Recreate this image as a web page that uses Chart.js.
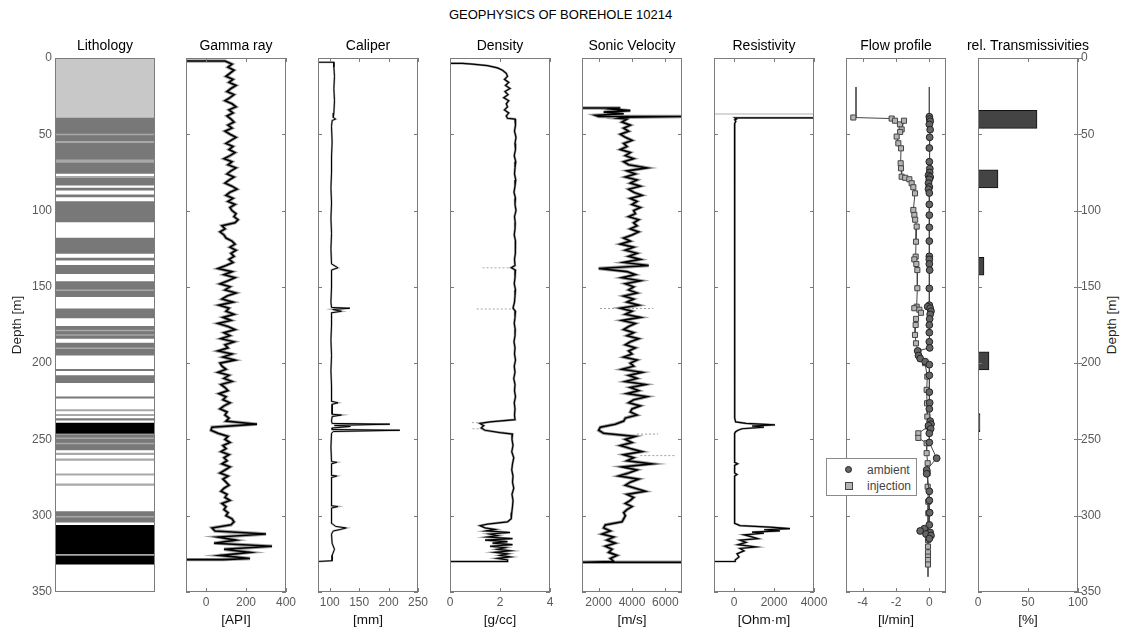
<!DOCTYPE html>
<html>
<head>
<meta charset="utf-8">
<title>Geophysics of borehole 10214</title>
<script src="https://cdn.jsdelivr.net/npm/chart.js@4.4.1/dist/chart.umd.min.js"></script>
<style>
  body { margin: 0; background: #fff; font-family: "Liberation Sans", Arial, sans-serif; }
  #page { position: relative; width: 1121px; height: 630px; overflow: hidden; }
  .panel { position: absolute; top: 0; }
  .ptitle { position: absolute; top: 45px; transform: translate(-50%, -50%); white-space: nowrap; font-size: 14px; color: #000; z-index: 4; }
  #title { position: absolute; top: 7px; left: 0; width: 1121px; text-align: center; font-size: 13px; line-height: 15px; color: #000; }
  #depthRight { position: absolute; left: 1111px; top: 325px; transform: translate(-50%, -50%) rotate(-90deg);
    white-space: nowrap; font-size: 13.5px; color: #222; }
  #legend { position: absolute; left: 826px; top: 458px; width: 91px; height: 38px; box-sizing: border-box;
    border: 1px solid #8a8a8a; background: #fff; font-size: 12px; color: #444; z-index: 5; }
  #legend .row { position: absolute; left: 0; height: 14px; line-height: 14px; }
  #legend .dot { position: absolute; left: 18px; top: 3px; width: 7px; height: 7px; border-radius: 50%; background: #666; border: 1px solid #222; box-sizing: border-box; }
  #legend .sq { position: absolute; left: 18px; top: 3px; width: 8px; height: 8px; background: #b4b4b4; border: 1px solid #444; box-sizing: border-box; }
  #legend .lab { position: absolute; left: 40px; top: 0; white-space: nowrap; color: #444; }
</style>
</head>
<body>
<div id="page">
  <div id="title">GEOPHYSICS OF BOREHOLE 10214</div>
  <div id="depthRight">Depth [m]</div>
  <div id="legend">
    <div class="row" style="top:4px"><span class="dot"></span><span class="lab">ambient</span></div>
    <div class="row" style="top:20px"><span class="sq"></span><span class="lab">injection</span></div>
  </div>
</div>
<script>
// ---------- data ----------

const DEPTH_TICKS = [0, 50, 100, 150, 200, 250, 300, 350];

// lithology bands: top, base [m] and class
const LITHO_COLORS = ['#c8c8c8', '#787878', '#000000', '#a8a8a8'];
const LITHO_TOP = [0, 39.5, 50, 51, 54.8, 56, 66.8, 69, 77.7, 78.9, 85.4, 89.8, 94.2, 118.2, 131.3, 136, 146.6, 152.1, 153,
  164.5, 176, 178.5, 179.5, 182, 186.9, 190, 191, 204.2, 208.3, 222.2, 230.5, 233.7, 236.5, 239.4, 247, 249, 250, 252.5,
  253.5, 259, 262.8, 272.6, 279.2, 297.4, 300.5, 301.5, 306.4, 325.5, 326.5];
const LITHO_BASE = [39.5, 50, 51, 54.8, 56, 66.8, 69, 75.6, 78.9, 83.2, 86.5, 90.9, 107.3, 128, 132.4, 141.2, 152.1, 153, 156.4,
  170.3, 178.5, 179.5, 181, 183.7, 190, 191, 194.6, 204.8, 212.7, 222.8, 231.2, 234.3, 237.2, 245.9, 249, 250, 252.5, 253.5,
  256.8, 259.8, 263.6, 273.3, 280, 300.5, 301.5, 304.2, 325.5, 326.5, 331.6];
const LITHO_CLASS = [0, 1, 3, 1, 3, 1, 3, 1, 3, 1, 1, 1, 1, 1, 1, 1, 1, 3, 1,
  1, 1, 3, 1, 1, 1, 3, 1, 1, 1, 1, 3, 3, 1, 2, 1, 3, 1, 3,
  1, 3, 3, 3, 3, 1, 3, 1, 2, 3, 2];

// gamma ray [API], sampled every 2 m from 2 m
const GAMMA_TOP = 2, GAMMA_STEP = 2;
const GAMMA_VALUES = [
  95, 130, 110, 140, 120, 100, 135, 115, 150, 125, 105, 140, 120, 95, 130, 150, 115, 135, 105, 125,
  140, 110, 130, 95, 120, 150, 125, 100, 135, 115, 145, 120, 90, 130, 110, 150, 125, 105, 140, 115, 95, 130, 155, 120, 100, 135, 110, 145, 120, 130,
  150, 140, 160, 145,
  80, 95, 70, 90, 100,
  130, 145, 120, 150, 125, 140, 115, 135,
  100, 60, 130, 90, 145, 110, 70, 120, 95, 150, 105, 80, 135, 65, 115, 100, 140, 85, 125, 60, 110, 145, 90,
  120, 75, 140, 95, 110, 60, 130, 85, 145, 70,
  80, 100, 60, 115, 90, 130, 75, 95, 110, 65, 100, 85, 120, 90, 70, 105, 95, 115, 100,
  255, 30, 25, 60,
  110, 95, 120, 85, 100, 75, 115, 90, 105, 80, 120, 95, 70, 110, 85, 100, 115, 90, 75, 105, 95, 120, 80, 100, 90, 110, 100,
  130, 140, 125,
  30, 45,
  300, 60, 150, 40, 330, 90, 220, 70, 220
];
const GAMMA_HEAD = [[2, -100]];
const GAMMA_TAIL = [[328.8, 85], [328.8, -100]];
const GAMMA_TICKS = [0, 200, 400];

// caliper [mm]: depth, diameter
const CALIPER_LOG = [[2.8, 80], [2.8, 107], [6, 107], [12, 108], [20, 107], [28, 108], [36, 107], [39, 106], [40, 110], [41, 104],
  [45, 103], [55, 104], [65, 103], [75, 103], [85, 102], [95, 103], [105, 102], [115, 103], [125, 102], [135, 103], [137.5, 114],
  [139, 103], [150, 103], [160, 102], [163.5, 103], [164, 134], [164.8, 105], [166, 120], [167, 103], [175, 103], [185, 102],
  [195, 103], [205, 102], [215, 103], [225, 103], [226, 114], [227, 104], [233.5, 104], [234, 120], [235, 104], [238, 103],
  [239.5, 104], [240, 202], [240.8, 108], [241.5, 135], [242.5, 104], [243.5, 104], [244, 219], [244.8, 106], [246, 103],
  [255, 102], [264.5, 103], [265, 112], [266, 103], [273.5, 103], [274, 112], [275, 103], [285, 103], [293.5, 103], [294, 114],
  [295, 103], [305, 103], [307, 110], [308, 128], [309, 118], [310, 106], [312, 103], [318, 104], [322, 108], [326, 104],
  [329.5, 104], [330, 80]];
const CALIPER_TICKS = [100, 150, 200, 250];

// density [g/cc]: depth, density
const DENSITY_LOG = [[3.5, 0], [3.5, 0.5], [4, 0.9], [5, 1.5], [6.5, 1.9], [8, 2.1], [10, 2.25], [12, 2.3], [14, 2.18], [16, 2.35],
  [18, 2.22], [20, 2.4], [22, 2.2], [24, 2.32], [26, 2.15], [28, 2.35], [30, 2.25], [32, 2.3], [34, 2.18], [36, 2.35], [38, 2.25],
  [39.5, 2.3], [40, 2.6], [44, 2.62], [48, 2.58], [52, 2.64], [56, 2.6], [60, 2.62], [64, 2.57], [68, 2.63], [72, 2.6], [76, 2.58],
  [80, 2.63], [84, 2.6], [88, 2.56], [92, 2.62], [96, 2.6], [100, 2.64], [104, 2.58], [108, 2.61], [112, 2.6], [116, 2.57],
  [120, 2.62], [124, 2.6], [128, 2.63], [132, 2.58], [136, 2.6], [137.5, 2.45], [139, 2.62], [144, 2.6], [148, 2.57], [152, 2.62],
  [156, 2.6], [160, 2.58], [164, 2.52], [166, 2.62], [170, 2.6], [174, 2.57], [178, 2.61], [182, 2.6], [186, 2.56], [190, 2.6],
  [194, 2.58], [198, 2.62], [202, 2.57], [206, 2.6], [210, 2.55], [214, 2.6], [218, 2.58], [222, 2.62], [226, 2.57], [230, 2.6],
  [234, 2.58], [237, 2.6], [238.5, 1.6], [239.5, 1.2], [241, 1.35], [242.5, 1.25], [244, 1.4], [245.5, 2.0], [246.5, 2.5],
  [250, 2.48], [254, 2.52], [258, 2.47], [262, 2.55], [266, 2.5], [270, 2.47], [274, 2.52], [278, 2.5], [282, 2.55], [286, 2.48],
  [290, 2.52], [294, 2.5], [298, 2.47], [302, 2.45], [304, 2.3], [305.5, 1.5], [306.5, 1.2], [308, 1.4], [309, 1.8], [310, 1.45],
  [311, 2.4], [312, 1.6], [313, 1.9], [314, 1.5], [315, 2.5], [316, 1.4], [317, 2.3], [318, 1.7], [319, 2.5], [320, 1.6],
  [321, 2.2], [322, 1.9], [323, 2.4], [324, 1.8], [325, 2.3], [326, 2.0], [327, 2.4], [328, 1.9], [329, 2.3], [330, 2.3], [330, 0]];
const DENSITY_SPIKES = [[137.5, 1.3, 2.5], [164.5, 1.07, 2.5], [239, 0.88, 1.4], [243, 0.9, 1.3]];
const DENSITY_TICKS = [0, 2, 4];

// sonic velocity [m/s], sampled every 2 m from 40 m
const SONIC_TOP = 40, SONIC_STEP = 2;
const SONIC_VALUES = [
  3700, 3400, 3900, 3500, 3800, 3300, 3600, 4000, 3500, 3700, 3300, 3900, 3600, 4100, 3500, 3800, 4900, 3700, 4200, 3600,
  4300, 3900, 4500, 3800, 4100, 4600, 3900, 4300, 4000, 4500, 4100,
  4200, 3800, 4400, 4100, 4300, 3900, 4400, 4000, 3500, 3900, 3300, 4100, 3600, 4300, 3800, 4500, 3500, 5000, 2000, 3700,
  4200, 3400, 4500, 3600, 4100,
  3800, 4300, 3500, 4100, 3700, 4400, 3300, 4000, 3600, 4500, 3400, 4200, 3800, 3500, 4100, 3700, 4400, 3900, 3600, 4200,
  3800, 4000, 3500, 4300, 3900,
  4100, 3400, 4600, 3800, 4300, 3600, 4800, 3900, 4400, 3700, 4900, 4100, 3800, 4500, 4000, 3900, 4300, 3600, 3500, 3000,
  2100, 2000, 2300,
  4200, 3600, 4000, 3300, 3900, 4600, 3500, 4100, 3700, 5200, 3400, 4300, 3800, 3200, 4400, 3900, 3600, 4200, 4800, 3700,
  4100, 3900, 3600, 4000, 3700, 3500, 3600,
  3500, 3400, 2400,
  2300, 2700, 2200, 2900, 2500, 3000, 2400, 2800, 2600, 3100, 2700, 2900
];
const SONIC_HEAD = [[32.8, 1000], [32.8, 3300], [33.5, 2800], [34.5, 3900], [35.5, 2300], [36.5, 3500], [37.5, 1800],
  [38.3, 2000], [38.3, 7000], [38.8, 3600], [39.5, 3200]];
const SONIC_TAIL = [[330.5, 1000], [330.5, 7000]];
const SONIC_SPIKES = [[164.2, 2080, 5270], [246.5, 4300, 5570], [260.6, 4500, 6640]];
const SONIC_TICKS = [2000, 4000, 6000];

// resistivity [Ohm·m]: depth, resistivity
const RESIST_LOG = [[39.3, 3950], [39.3, 50], [40, 120], [40.5, 40], [41.5, 90], [43, 30], [60, 35], [80, 30], [100, 40],
  [120, 30], [140, 35], [160, 30], [180, 35], [200, 30], [220, 40], [236, 35], [238.5, 80], [239.5, 600], [240.5, 2050],
  [241.2, 900], [242, 1500], [243, 400], [244, 200], [245, 80], [246, 30], [265, 30], [266, 180], [267, 30], [272, 30],
  [273, 150], [274, 30], [290, 30], [305, 30], [306.5, 300], [307.5, 1800], [308.5, 2800], [309.2, 1500], [310, 2300],
  [310.8, 900], [311.5, 1500], [312.5, 500], [313.5, 800], [315, 1200], [316, 300], [317.5, 600], [319, 200], [320.5, 1100],
  [321.5, 300], [323, 500], [325, 150], [327, 250], [329, 60], [330, 60], [330, -1000]];
const RESIST_SPIKES = [[36.7, -1000, 4000]];
const RESIST_TICKS = [0, 2000, 4000];

// flow profile [l/min]: depth, flow
const FLOW_INJECTION = [[39, -4.56], [39.7, -2.26], [41.1, -2.06], [43.5, -1.76], [41.1, -1.52], [46.8, -1.66], [48.5, -1.75],
  [51.5, -1.96], [55.9, -1.86], [59.2, -1.7], [69, -1.72], [72.3, -1.7], [77.8, -1.66], [78.5, -1.45], [79.5, -1.2],
  [82.1, -1.06], [84.7, -0.96], [88.7, -0.86], [99.6, -0.96], [102.9, -0.9], [106, -0.85], [110.5, -0.76], [120.4, -0.8],
  [130.2, -0.82], [132, -0.9], [135, -0.78], [139, -0.72], [150.9, -0.72], [163, -0.76], [164, -0.9], [165, -0.6],
  [167, -0.5], [171, -0.8], [175, -0.82], [181.5, -0.86], [187, -0.8], [192.4, -0.66], [196.8, -0.56], [200, -0.26],
  [208.8, -0.12], [217.5, -0.16], [226.3, -0.14], [235, -0.12], [241.6, -0.08], [246, -0.66], [249, -0.66], [252.5, -0.16],
  [259, -0.16], [265.6, -0.1], [272, -0.1], [281, -0.1], [290.8, -0.06], [298.4, -0.06], [311.5, -0.08], [316, -0.08],
  [320.2, -0.08], [324, -0.08], [326.8, -0.08], [329, -0.08], [332, -0.08]];
const FLOW_AMBIENT = [[38.5, 0], [40, 0.02], [41.5, 0.05], [43.5, 0], [47, 0.05], [52, 0.02], [59, 0], [68, 0], [72.5, 0.03],
  [75, 0.02], [77, -0.05], [78, 0.05], [79.5, 0], [82, -0.05], [84.5, 0], [86, -0.05], [88.5, 0], [96, 0], [103, 0], [111, 0],
  [120, 0], [130, 0], [132, 0], [135, 0], [139, 0.02], [151, 0], [162, 0], [163, -0.1], [164, 0.05], [166, 0.1], [168, 0.05],
  [171, 0.02], [175, 0], [180, 0], [186, 0], [190, 0.02], [192, -0.7], [195, -0.65], [197, -0.55], [199, -0.25], [201, 0],
  [208, 0], [219, 0], [226, 0.02], [230, 0], [238, 0.05], [240, 0.1], [241, -0.05], [243, 0.08], [246, 0], [252, 0],
  [262.3, 0.44], [270, -0.16], [272.5, -0.16], [284, 0], [290, 0], [298, 0.02], [306, 0], [308.5, -0.3], [310, -0.55],
  [311, 0.05], [312, -0.2], [313, 0.1], [315, 0]];
const FLOW_INJECTION_STEMS = [[[19, -4.4], [39, -4.4]], [[332, -0.08], [340, -0.08]]];
const FLOW_AMBIENT_STEMS = [[[19, 0], [38.5, 0]]];
const FLOW_TICKS = [-4, -2, 0];

// relative transmissivities [%]: centre depth, value
const TRANS_DEPTH = [40.2, 79.2, 136.5, 198.5, 239];
const TRANS_VALUE = [59, 20, 6, 11, 2];
const TRANS_TICKS = [0, 50, 100];

// ---------- drawing ----------

Chart.defaults.font.family = '"Liberation Sans", Arial, sans-serif';

const FRAME = '#7c7c7c';
const TICK_FONT = {size: 12};
const TICK_COLOR = '#5a5a5a';
const LABEL_FONT = {size: 13.5};

// box and inward tick marks, like the original plotting tool
const framePlugin = {
  id: 'frame',
  afterDatasetsDraw(chart, args, opts) {
    const {ctx, chartArea: a, scales} = chart;
    ctx.save();
    ctx.strokeStyle = FRAME;
    ctx.lineWidth = 1;
    ctx.beginPath();
    (opts.depthTicks || []).forEach(d => {
      const y = Math.round(scales.y.getPixelForValue(d)) + 0.5;
      ctx.moveTo(a.left, y); ctx.lineTo(a.left + 4, y);
      ctx.moveTo(a.right, y); ctx.lineTo(a.right - 4, y);
      if (opts.outer) { ctx.moveTo(a.right, y); ctx.lineTo(a.right + 4, y); }
    });
    (opts.valueTicks || []).forEach(v => {
      const x = Math.round(scales.x.getPixelForValue(v)) + 0.5;
      ctx.moveTo(x, a.top); ctx.lineTo(x, a.top + 4);
      ctx.moveTo(x, a.bottom); ctx.lineTo(x, a.bottom - 4);
    });
    ctx.stroke();
    ctx.strokeRect(Math.round(a.left) + 0.5, Math.round(a.top) + 0.5, Math.round(a.width) - 1, Math.round(a.height) - 1);
    ctx.restore();
  }
};

function toPoints(pairs) {
  return pairs.map(([d, v]) => ({x: v, y: d}));
}

function gridPoints(top, step, values) {
  return values.map((v, i) => ({x: v, y: top + i * step}));
}

function lineSet(points, color, width, dash) {
  return {
    type: 'scatter', data: points, showLine: true, borderColor: color, borderWidth: width,
    borderDash: dash || [], pointRadius: 0, fill: false, tension: 0
  };
}

function spikeSets(spikes, color, dash) {
  return spikes.map(([d, a, b]) => lineSet([{x: a, y: d}, {x: b, y: d}], color, 1, dash));
}

function addPanel(cfg) {
  const page = document.getElementById('page');
  const padL = cfg.padL !== undefined ? cfg.padL : 20;
  const padR = cfg.padR !== undefined ? cfg.padR : 20;
  const axisL = cfg.yAxis === 'left' ? cfg.axisWidth : 0;
  const axisR = cfg.yAxis === 'right' ? cfg.axisWidth : 0;
  const width = padL + axisL + 100 + axisR + padR;

  const head = document.createElement('div');
  head.className = 'ptitle';
  head.style.left = (cfg.left + 50) + 'px';
  head.textContent = cfg.title;
  page.appendChild(head);

  const wrap = document.createElement('div');
  wrap.className = 'panel';
  wrap.style.left = (cfg.left - padL - axisL) + 'px';
  const canvas = document.createElement('canvas');
  canvas.width = width;
  canvas.height = 630;
  wrap.appendChild(canvas);
  page.appendChild(wrap);

  const hasX = !!cfg.xTicks;

  new Chart(canvas, {
    type: cfg.type || 'scatter',
    data: {datasets: cfg.datasets},
    options: {
      responsive: false,
      animation: false,
      indexAxis: cfg.indexAxis || 'x',
      layout: {padding: {left: padL, right: padR, top: 58, bottom: 0}},
      plugins: {
        legend: {display: false},
        tooltip: {enabled: false},
        frame: {depthTicks: cfg.depthTicks, valueTicks: cfg.xTicks, outer: cfg.outerTicks}
      },
      scales: {
        x: {
          type: 'linear', min: cfg.xMin, max: cfg.xMax, offset: false, display: true,
          grid: {display: false, drawTicks: false}, border: {display: false},
          afterBuildTicks: s => { s.ticks = (cfg.xTicks || []).map(v => ({value: v})); },
          afterFit: s => { s.height = 38; },
          ticks: {display: hasX, color: TICK_COLOR, font: TICK_FONT, padding: 3, maxRotation: 0, autoSkip: false, callback: v => String(v)},
          title: {display: hasX, text: cfg.unit || '', color: '#111', font: LABEL_FONT, padding: {top: 0, bottom: 2}}
        },
        y: {
          type: 'linear', reverse: true, min: 0, max: 350, offset: false,
          display: !!cfg.yAxis, position: cfg.yAxis || 'left',
          grid: {display: false, drawTicks: false}, border: {display: false},
          afterBuildTicks: s => { s.ticks = DEPTH_TICKS.map(v => ({value: v})); },
          afterFit: s => { s.width = cfg.axisWidth || 0; },
          ticks: {color: TICK_COLOR, font: TICK_FONT, padding: 3, autoSkip: false, callback: v => String(v)},
          title: {
            display: cfg.yAxis === 'left', text: 'Depth [m]', color: '#222', font: LABEL_FONT,
            padding: {top: 9, bottom: 0}
          }
        }
      }
    },
    plugins: [framePlugin]
  });
}

const PANEL_LEFT = [55, 186, 318, 450, 582, 714, 846, 978];

// note: Chart.js paints the first dataset on top, so main curves come first

// lithology column
addPanel({
  left: PANEL_LEFT[0], padL: 0, yAxis: 'left', axisWidth: 55, type: 'bar', title: 'Lithology',
  xMin: 0, xMax: 1, depthTicks: [],
  datasets: [{
    type: 'bar',
    data: LITHO_TOP.map((t, i) => ({x: 0.5, y: [t, LITHO_BASE[i]]})),
    backgroundColor: LITHO_CLASS.map(c => LITHO_COLORS[c]),
    borderWidth: 0, barThickness: 100, inflateAmount: 0.5
  }]
});

// gamma ray
addPanel({
  left: PANEL_LEFT[1], title: 'Gamma ray', unit: '[API]', xMin: -100, xMax: 400, xTicks: GAMMA_TICKS, depthTicks: DEPTH_TICKS,
  datasets: (() => {
    const pts = toPoints(GAMMA_HEAD).concat(gridPoints(GAMMA_TOP, GAMMA_STEP, GAMMA_VALUES), toPoints(GAMMA_TAIL));
    return [lineSet(pts, '#000', 1.6), lineSet(pts, '#a0a0a0', 3.4)];
  })()
});

// caliper
addPanel({
  left: PANEL_LEFT[2], title: 'Caliper', unit: '[mm]', xMin: 80, xMax: 250, xTicks: CALIPER_TICKS, depthTicks: DEPTH_TICKS,
  datasets: [lineSet(toPoints(CALIPER_LOG), '#000', 1), lineSet(toPoints(CALIPER_LOG), '#b0b0b0', 2)]
});

// density
addPanel({
  left: PANEL_LEFT[3], title: 'Density', unit: '[g/cc]', xMin: 0, xMax: 4, xTicks: DENSITY_TICKS, depthTicks: DEPTH_TICKS,
  datasets: [
    lineSet(toPoints(DENSITY_LOG), '#000', 1.2),
    lineSet(toPoints(DENSITY_LOG), '#a0a0a0', 2.4)
  ].concat(spikeSets(DENSITY_SPIKES, '#aaaaaa', [2, 2]))
});

// sonic velocity
addPanel({
  left: PANEL_LEFT[4], title: 'Sonic Velocity', unit: '[m/s]', xMin: 1000, xMax: 7000, xTicks: SONIC_TICKS, depthTicks: DEPTH_TICKS,
  datasets: (() => {
    const pts = toPoints(SONIC_HEAD).concat(gridPoints(SONIC_TOP, SONIC_STEP, SONIC_VALUES), toPoints(SONIC_TAIL));
    return [lineSet(pts, '#000', 1.6), lineSet(pts, '#a0a0a0', 3.4)].concat(spikeSets(SONIC_SPIKES, '#a0a0a0', [2, 2]));
  })()
});

// resistivity
addPanel({
  left: PANEL_LEFT[5], title: 'Resistivity', unit: '[Ohm·m]', xMin: -1000, xMax: 4000, xTicks: RESIST_TICKS, depthTicks: DEPTH_TICKS,
  datasets: [
    lineSet(toPoints(RESIST_LOG), '#000', 1.2),
    lineSet(toPoints(RESIST_LOG), '#a0a0a0', 2.2)
  ].concat(spikeSets(RESIST_SPIKES, '#b0b0b0'))
});

// flow profile
addPanel({
  left: PANEL_LEFT[6], title: 'Flow profile', unit: '[l/min]', xMin: -5, xMax: 1, xTicks: FLOW_TICKS, depthTicks: DEPTH_TICKS,
  datasets: [
    {
      type: 'scatter', data: toPoints(FLOW_AMBIENT), showLine: true, borderColor: '#444', borderWidth: 1,
      pointStyle: 'circle', pointRadius: 3.4, pointBackgroundColor: '#666', pointBorderColor: '#222', pointBorderWidth: 1
    },
    {
      type: 'scatter', data: toPoints(FLOW_INJECTION), showLine: true, borderColor: '#444', borderWidth: 1,
      pointStyle: 'rect', pointRadius: 3.6, pointBackgroundColor: '#b4b4b4', pointBorderColor: '#444', pointBorderWidth: 1
    }
  ].concat(FLOW_INJECTION_STEMS.map(s => lineSet(toPoints(s), '#555', 1)))
   .concat(FLOW_AMBIENT_STEMS.map(s => lineSet(toPoints(s), '#555', 1)))
});

// relative transmissivities
addPanel({
  left: PANEL_LEFT[7], padR: 0, yAxis: 'right', axisWidth: 43, type: 'bar', indexAxis: 'y',
  title: 'rel. Transmissivities', unit: '[%]', xMin: 0, xMax: 100, xTicks: TRANS_TICKS, depthTicks: DEPTH_TICKS, outerTicks: true,
  datasets: [{
    type: 'bar',
    data: TRANS_DEPTH.map((d, i) => ({x: TRANS_VALUE[i], y: d})),
    backgroundColor: '#444444', borderColor: '#111', borderWidth: 1, borderSkipped: false, barThickness: 18
  }]
});
</script>
</body>
</html>
